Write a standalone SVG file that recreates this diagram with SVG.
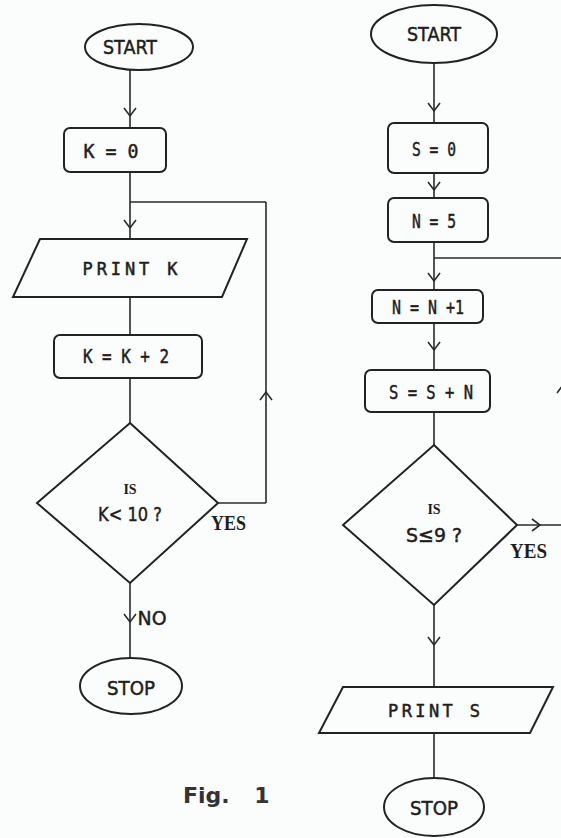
<svg xmlns="http://www.w3.org/2000/svg" width="561" height="838" viewBox="0 0 561 838">
<style>
.bg{fill:#fbfdfd}
.sh{fill:none;stroke:#222;stroke-width:2}
.ln{fill:none;stroke:#2a2a2a;stroke-width:1.6}
.t{font-family:"DejaVu Sans Mono","Liberation Mono",monospace;font-size:20px;fill:#1e1e1e;stroke:#1e1e1e;stroke-width:0.5;text-anchor:middle}
.tp{font-family:"DejaVu Sans Mono","Liberation Mono",monospace;font-size:17px;fill:#1e1e1e;stroke:#1e1e1e;stroke-width:0.5;text-anchor:middle}
.tc{font-family:"DejaVu Sans","Liberation Sans",sans-serif;font-size:20px;fill:#1e1e1e;stroke:#1e1e1e;stroke-width:0.5;text-anchor:middle}
.ty{font-family:"Liberation Serif","DejaVu Serif",serif;font-weight:bold;font-size:20px;fill:#1e1e1e}
.ti{font-family:"Liberation Serif","DejaVu Serif",serif;font-weight:bold;font-size:14px;fill:#1e1e1e;text-anchor:middle}
.fig{font-family:"DejaVu Sans","Liberation Sans",sans-serif;font-weight:bold;font-size:22px;fill:#333;word-spacing:17px}
</style>
<defs>
<marker id="v" viewBox="-9 -7 11 14" markerWidth="11" markerHeight="14" refX="0" refY="0" orient="auto" markerUnits="userSpaceOnUse">
<path d="M-8,-6 L0,0 L-8,6" fill="none" stroke="#2a2a2a" stroke-width="1.6"/>
</marker>
</defs>
<rect class="bg" x="0" y="0" width="561" height="838"/>

<g id="connectors">
<path class="ln" d="M130,70 L130,116 L130,128" marker-mid="url(#v)"/>
<path class="ln" d="M130,172 L130,228 L130,239" marker-mid="url(#v)"/>
<path class="ln" d="M130,297 L130,335"/>
<path class="ln" d="M130,378 L130,423"/>
<path class="ln" d="M218,503 L266,503"/>
<path class="ln" d="M266,503 L266,392 L266,202" marker-mid="url(#v)"/>
<path class="ln" d="M266,202 L130,202"/>
<path class="ln" d="M130,583 L130,622 L130,658" marker-mid="url(#v)"/>

<path class="ln" d="M434,63 L434,111 L434,123" marker-mid="url(#v)"/>
<path class="ln" d="M434,173 L434,190 L434,198" marker-mid="url(#v)"/>
<path class="ln" d="M434,242 L434,281 L434,290" marker-mid="url(#v)"/>
<path class="ln" d="M434,258 L562,258"/>
<path class="ln" d="M434,323 L434,350 L434,370" marker-mid="url(#v)"/>
<path class="ln" d="M434,412 L434,445"/>
<path class="ln" d="M517,525 L540,525 L563,525" marker-mid="url(#v)"/>
<path class="ln" d="M563,525 L563,385 L563,258" marker-mid="url(#v)"/>
<path class="ln" d="M434,605 L434,645 L434,687" marker-mid="url(#v)"/>
<path class="ln" d="M434,733 L434,777"/>
</g>

<g id="start1"><ellipse class="sh" cx="139" cy="47" rx="54" ry="23"/><text class="tc" x="130" y="54" textLength="54" lengthAdjust="spacingAndGlyphs">START</text></g>
<g id="k0"><rect class="sh" x="64" y="128" width="102" height="44" rx="6"/><text class="t" x="111" y="158" textLength="55" lengthAdjust="spacingAndGlyphs">K = 0</text></g>
<g id="printk"><polygon class="sh" points="40,239 247,239 222,297 13,297"/><text class="tp" x="130" y="275" textLength="95" lengthAdjust="spacing">PRINT K</text></g>
<g id="kk2"><rect class="sh" x="54" y="335" width="148" height="43" rx="6"/><text class="t" x="126" y="363" textLength="86" lengthAdjust="spacingAndGlyphs">K = K + 2</text></g>
<g id="dec1"><polygon class="sh" points="130,423 218,503 130,583 37,503"/><text class="ti" x="130" y="494">IS</text><text class="tc" x="130" y="521" textLength="64" lengthAdjust="spacingAndGlyphs">K&lt; 10 ?</text><text class="ty" x="211" y="530" textLength="35" lengthAdjust="spacingAndGlyphs">YES</text></g>
<text class="tc" x="152" y="625" textLength="29" lengthAdjust="spacingAndGlyphs">NO</text>
<g id="stop1"><ellipse class="sh" cx="131" cy="686" rx="51" ry="28"/><text class="tc" x="131" y="695" textLength="48" lengthAdjust="spacingAndGlyphs">STOP</text></g>
<text class="fig" x="183" y="803">Fig. 1</text>

<g id="start2"><ellipse class="sh" cx="434" cy="34" rx="63" ry="29"/><text class="tc" x="434" y="41" textLength="54" lengthAdjust="spacingAndGlyphs">START</text></g>
<g id="s0"><rect class="sh" x="388" y="123" width="100" height="50" rx="6"/><text class="t" x="434" y="156" textLength="44" lengthAdjust="spacingAndGlyphs">S = 0</text></g>
<g id="n5"><rect class="sh" x="388" y="198" width="100" height="44" rx="6"/><text class="t" x="434" y="228" textLength="44" lengthAdjust="spacingAndGlyphs">N = 5</text></g>
<g id="nn1"><rect class="sh" x="372" y="290" width="111" height="33" rx="6"/><text class="t" x="428" y="314" textLength="72" lengthAdjust="spacingAndGlyphs">N = N +1</text></g>
<g id="ssn"><rect class="sh" x="365" y="370" width="125" height="42" rx="6"/><text class="t" x="431" y="399" textLength="84" lengthAdjust="spacingAndGlyphs">S = S + N</text></g>
<g id="dec2"><polygon class="sh" points="434,445 517,525 434,605 343,525"/><text class="ti" x="434" y="514">IS</text><text class="tc" x="434" y="542" textLength="56" lengthAdjust="spacingAndGlyphs">S≤9 ?</text><text class="ty" x="510" y="558" textLength="37" lengthAdjust="spacingAndGlyphs">YES</text></g>
<g id="prints"><polygon class="sh" points="343,687 553,687 530,733 319,733"/><text class="tp" x="434" y="717" textLength="92" lengthAdjust="spacing">PRINT S</text></g>
<g id="stop2"><ellipse class="sh" cx="434" cy="807" rx="50" ry="29"/><text class="tc" x="434" y="815" textLength="48" lengthAdjust="spacingAndGlyphs">STOP</text></g>
</svg>
